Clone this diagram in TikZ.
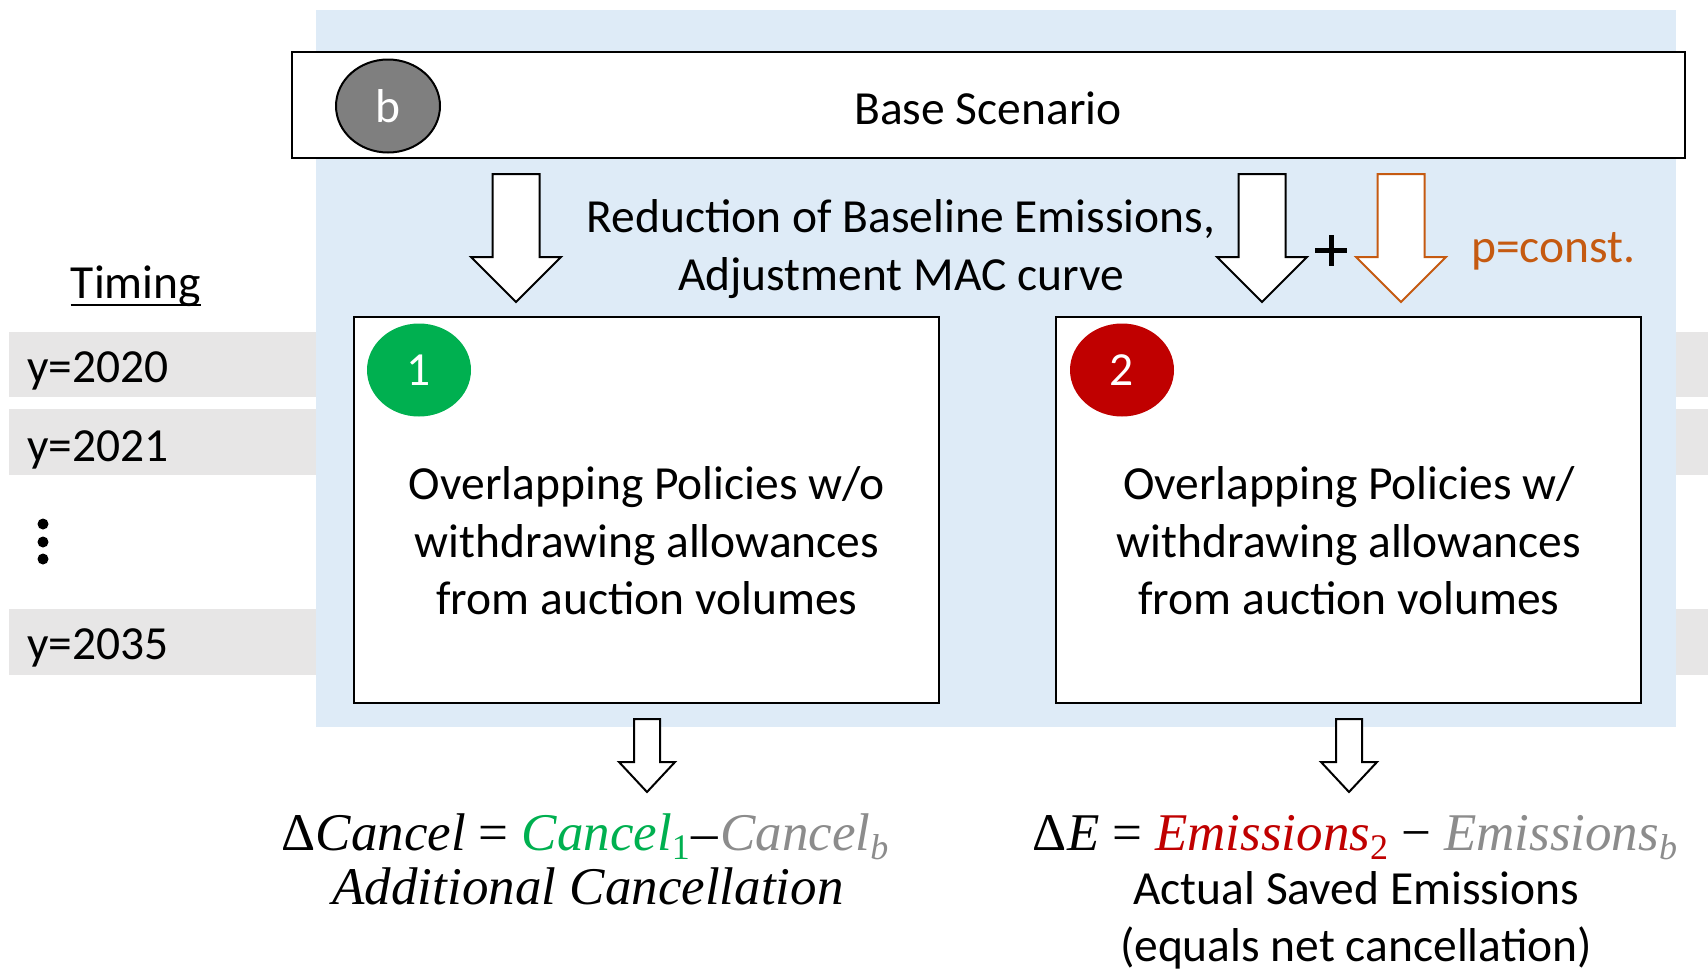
\documentclass[tikz,border=0pt]{standalone}
\usepackage{fontspec}
\setmainfont{Carlito}
\newfontfamily\eqfont{Liberation Serif}
\usetikzlibrary{shapes.geometric}
\definecolor{panelblue}{HTML}{DEEBF7}
\definecolor{bandgrey}{HTML}{E7E6E6}
\definecolor{circgrey}{HTML}{7F7F7F}
\definecolor{eqgreen}{HTML}{00B050}
\definecolor{eqred}{HTML}{C00000}
\definecolor{eqgrey}{HTML}{8C8C8C}
\definecolor{arrorange}{HTML}{C55A11}
\newcommand{\mysub}[1]{\raisebox{-0.17em}{\fontsize{36}{36}\selectfont #1}}
\newcommand{\blockarr}[7]{\draw[#7] ({#1-#5},#2) -- ({#1+#5},#2) -- ({#1+#5},#3) -- ({#1+#6},#3) -- (#1,#4) -- ({#1-#6},#3) -- ({#1-#5},#3) -- cycle;}
\tikzset{
  boxnode/.style={draw=black, line width=2.5pt, fill=white, inner sep=0pt},
  badge/.style={ellipse, inner sep=0pt, text=white, minimum width=104pt, minimum height=93pt},
  txt/.style={inner sep=0pt},
  blockw/.style={draw=black, line width=2pt, fill=white, line join=miter},
  blocko/.style={draw=arrorange, line width=2pt, fill=white, line join=miter},
  eqtxt/.style={inner sep=0pt, font=\fontsize{53}{60}\selectfont\eqfont\itshape}
}
\begin{document}
\begin{tikzpicture}[x=1pt,y=-1pt,font=\fontsize{47.5}{58}\selectfont]
\useasboundingbox (0,0) rectangle (1708,970);
\fill[white] (0,0) rectangle (1708,970);
% timing bands
\fill[bandgrey] (9,332) rectangle (1708,397);
\fill[bandgrey] (9,409) rectangle (1708,475);
\fill[bandgrey] (9,609) rectangle (1708,675);
% blue panel
\fill[panelblue] (316,10) rectangle (1676,727);
% base scenario box
\node[boxnode, minimum width=1393pt, minimum height=106pt] (base) at (988.5,105) {};
\node[badge, fill=circgrey, draw=black, line width=2pt] (bb) at (388,106) {b};
\node[txt, anchor=base] (basetxt) at (988,124) {Base Scenario};
% arrows from base
\blockarr{516}{174}{257}{302}{23.5}{45}{blockw}
\blockarr{1262}{174}{257}{302}{23.5}{45}{blockw}
\blockarr{1401}{174}{257}{302}{23.5}{45}{blocko}
\draw[line width=5pt] (1315,250.5) -- (1347,250.5) (1331,235) -- (1331,266);
\node[txt, anchor=base] (red1) at (901,232) {Reduction of Baseline Emissions,};
\node[txt, anchor=base] (red2) at (901,290) {Adjustment MAC curve};
\node[txt, anchor=base west, text=arrorange] (pc) at (1471,262) {p=const.};
% timing
\node[txt, anchor=base] (timing) at (136,298) {Timing};
\draw[line width=2.5pt] ([yshift=-7pt]timing.base west) -- ([yshift=-7pt]timing.base east);
\node[txt, anchor=base west] (y20) at (27,382) {y=2020};
\node[txt, anchor=base west] (y21) at (27,461) {y=2021};
\node[txt, anchor=base west] (y35) at (27,659) {y=2035};
\fill (43,524) circle (5.5) (43,542) circle (5.5) (43,559) circle (5.5);
% scenario boxes
\node[boxnode, minimum width=585pt, minimum height=386pt] (box1) at (646.5,510) {};
\node[boxnode, minimum width=585pt, minimum height=386pt] (box2) at (1348.5,510) {};
\node[badge, fill=eqgreen] (c1) at (419,370) {1};
\node[badge, fill=eqred] (c2) at (1122,370) {2};
\node[txt, anchor=base] (t1a) at (647,499) {Overlapping Policies w/o};
\node[txt, anchor=base] (t1b) at (647,557) {withdrawing allowances};
\node[txt, anchor=base] (t1c) at (647,614) {from auction volumes};
\node[txt, anchor=base] (t2a) at (1349,499) {Overlapping Policies w/};
\node[txt, anchor=base] (t2b) at (1349,557) {withdrawing allowances};
\node[txt, anchor=base] (t2c) at (1349,614) {from auction volumes};
% output arrows
\blockarr{647}{719}{762}{792}{13}{28}{blockw}
\blockarr{1349}{719}{762}{792}{13}{28}{blockw}
% formulas
\node[eqtxt, anchor=base] (eq1) at (585,850) {{\upshape Δ}Cancel\kern13pt{\upshape =}\kern13pt\textcolor{eqgreen}{Cancel\mysub{\upshape 1}}\kern2pt{\upshape –}\kern2pt\textcolor{eqgrey}{Cancel\mysub{b}}};
\node[eqtxt, anchor=base] (eq1b) at (588,904) {Additional Cancellation};
\node[eqtxt, anchor=base] (eq2) at (1355,850) {{\upshape Δ}E\kern13pt{\upshape =}\kern13pt\textcolor{eqred}{Emissions\mysub{\upshape 2}}\kern13pt{\upshape −}\kern13pt\textcolor{eqgrey}{Emissions\mysub{b}}};
\node[txt, anchor=base] (eq2b) at (1356,904) {Actual Saved Emissions};
\node[txt, anchor=base] (eq2c) at (1356,961) {(equals net cancellation)};
\end{tikzpicture}
\end{document}
